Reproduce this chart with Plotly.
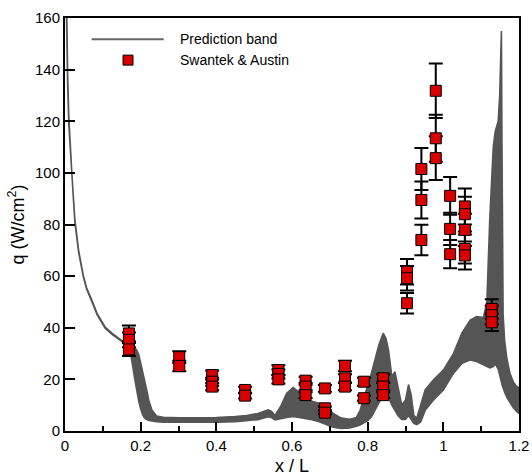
import plotly.graph_objects as go

# ---------------- data ----------------
# prediction band (x/L, upper and lower heat flux, W/cm^2)
x_band = [0.002, 0.0045, 0.007, 0.010, 0.014, 0.018, 0.026, 0.036, 0.048, 0.057,
          0.070, 0.085, 0.106, 0.125, 0.145, 0.165, 0.172, 0.178, 0.184, 0.189,
          0.195, 0.200, 0.206, 0.211, 0.216, 0.222, 0.230, 0.242, 0.260, 0.300,
          0.350, 0.400, 0.450, 0.480, 0.510, 0.537, 0.546, 0.555, 0.570, 0.586,
          0.603, 0.615, 0.630, 0.650, 0.674, 0.690, 0.709, 0.730, 0.753, 0.770,
          0.780, 0.790, 0.800, 0.810, 0.820, 0.830, 0.841, 0.848, 0.855, 0.864,
          0.872, 0.880, 0.890, 0.900, 0.908, 0.915, 0.922, 0.930, 0.940, 0.952,
          0.974, 1.000, 1.027, 1.049, 1.071, 1.088, 1.106, 1.115, 1.123, 1.132,
          1.137, 1.145, 1.149, 1.152, 1.1535, 1.155, 1.158, 1.162, 1.168, 1.176,
          1.185, 1.194, 1.200]
q_upper = [190, 160, 138, 122, 109, 100, 82, 70, 60.5, 55.5,
           51, 45.5, 40.3, 37.8, 35.6, 33.8, 33.2, 32.8, 32.3, 31.6,
           29.5, 26.5, 22, 18.8, 15.9, 11.5, 8, 5.8, 5.3, 5.1,
           5.1, 5.2, 5.6, 6.0, 6.8, 8.2, 7.6, 6.0, 9.5, 14.6,
           16.8, 15.5, 13.3, 11.6, 10.7, 9.2, 6.8, 5.0, 4.5, 5.2,
           8, 12.5, 17.5, 22.5, 27.5, 33.5, 37.9, 36, 31.4, 21,
           23, 17, 10, 12, 18, 14, 6, 5, 10, 15.9,
           19.8, 23.6, 30.1, 37.9, 43, 44.3, 44, 50, 83, 110,
           116, 120, 130, 148, 155, 110, 45, 35, 28, 22.4,
           19, 17.2, 16.8]
q_lower = [180, 150, 134, 119, 107, 98.5, 81, 69.3, 60, 55,
           50.5, 45, 39.8, 37.3, 35.1, 33.2, 31, 26, 20.5, 15.9,
           11.5, 8.5, 6, 4.9, 4.4, 4.1, 3.8, 3.6, 3.4, 3.3,
           3.3, 3.4, 3.6, 3.9, 4.4, 5.5, 5.2, 4.3, 4.6, 5.2,
           5.6, 5.4, 5.0, 4.5, 3.5, 2.5, 1.5, 1.0, 1.2, 1.8,
           2.3, 3, 4, 5.5, 8, 11, 14, 15, 13, 10,
           8, 6, 4.5, 4.5, 6, 4.5, 3, 2.5, 3.5, 8,
           12, 15.9, 22.4, 26.2, 27.5, 26.9, 25.6, 25, 24.5, 25,
           26, 24, 22, 20, 19, 18, 16.5, 15, 13, 11,
           9, 7.5, 6.8]

# Swantek & Austin measurements
exp_x = [0.169, 0.169, 0.169,
         0.302, 0.302,
         0.389, 0.389, 0.389,
         0.476, 0.476,
         0.564, 0.564, 0.564,
         0.636, 0.636, 0.636,
         0.687, 0.687, 0.687,
         0.740, 0.740, 0.740,
         0.790, 0.790,
         0.841, 0.841, 0.841,
         0.904, 0.904, 0.904,
         0.942, 0.942, 0.942,
         0.980, 0.980, 0.980,
         1.018, 1.018, 1.018,
         1.057, 1.057, 1.057, 1.057, 1.057,
         1.128, 1.128, 1.128]
exp_q = [37.8, 35.3, 31.6,
         28.6, 25.2,
         21.7, 19.1, 17.2,
         15.9, 13.7,
         23.6, 22.1, 20.0,
         19.5, 17.2, 13.9,
         16.5, 8.8, 7.1,
         25.2, 20.4, 17.2,
         19.1, 12.7,
         20.4, 17.2, 13.9,
         61.7, 59.2, 49.5,
         101.5, 89.5, 74.0,
         131.8, 113.4, 105.7,
         91.1, 78.3, 68.5,
         87.0, 84.0, 77.9, 70.5, 68.0,
         47.3, 44.9, 42.1]
exp_err_percent = 8

x_ticks = [0, 0.2, 0.4, 0.6, 0.8, 1.0, 1.2]
x_tick_labels = ["0", "0.2", "0.4", "0.6", "0.8", "1", "1.2"]
y_ticks = [0, 20, 40, 60, 80, 100, 120, 140, 160]

series_names = ["Prediction band", "Swantek & Austin"]

# ---------------- figure ----------------
BAND = "#555555"
RED = "#D90000"
FONT = "Liberation Sans, Arial, Helvetica, sans-serif"

fig = go.Figure()

fig.add_trace(go.Scatter(
    x=x_band + x_band[::-1],
    y=q_upper + q_lower[::-1],
    mode="lines", fill="toself", fillcolor=BAND,
    line=dict(color=BAND, width=1.6),
    hoverinfo="skip", showlegend=False, name=series_names[0]))

fig.add_trace(go.Scatter(
    x=exp_x, y=exp_q, mode="markers", name=series_names[1], showlegend=False,
    marker=dict(symbol="square", size=11, color=RED,
                line=dict(color="black", width=1)),
    error_y=dict(type="percent", value=exp_err_percent, color="black",
                 thickness=2, width=7)))

# hand-drawn legend (matches reference layout)
fig.add_shape(type="line", xref="paper", yref="paper",
              x0=0.0588, x1=0.2174, y0=0.9487, y1=0.9487,
              line=dict(color="#666666", width=2))
fig.add_shape(type="rect", xref="paper", yref="paper",
              x0=0.1388 - 0.011, x1=0.1388 + 0.011,
              y0=0.898 - 0.0121, y1=0.898 + 0.0121,
              fillcolor=RED, line=dict(color="black", width=1))
fig.add_annotation(text=series_names[0], xref="paper", yref="paper",
                   x=0.249, y=0.9487, xanchor="left", yanchor="middle",
                   showarrow=False, font=dict(size=14, color="black", family=FONT))
fig.add_annotation(text=series_names[1], xref="paper", yref="paper",
                   x=0.249, y=0.898, xanchor="left", yanchor="middle",
                   showarrow=False, font=dict(size=14, color="black", family=FONT))

fig.update_layout(
    width=532, height=476,
    margin=dict(l=65, r=13, t=18, b=45),
    paper_bgcolor="white", plot_bgcolor="white",
    font=dict(family=FONT, size=15, color="black"),
    showlegend=False,
)
fig.update_xaxes(
    range=[0, 1.2], tickmode="array", tickvals=x_ticks, ticktext=x_tick_labels,
    ticks="inside", ticklen=9, tickwidth=2, tickcolor="black",
    minor=dict(dtick=0.1, tick0=0, ticks="inside", ticklen=5, tickwidth=1.5,
               tickcolor="black", showgrid=False),
    showline=True, linecolor="black", linewidth=2, mirror=True,
    showgrid=False, zeroline=False, automargin=False,
    tickfont=dict(size=15),
    title=dict(text="x / L", font=dict(size=18), standoff=6),
)
fig.update_yaxes(
    range=[0, 160], tickmode="array", tickvals=y_ticks,
    ticks="inside", ticklen=10, tickwidth=2, tickcolor="black",
    showline=True, linecolor="black", linewidth=2, mirror=True,
    showgrid=False, zeroline=False, automargin=False,
    tickfont=dict(size=15),
    title=dict(text="q (W/cm<sup>2</sup>)", font=dict(size=18), standoff=6),
)

fig.write_html("out.html")
